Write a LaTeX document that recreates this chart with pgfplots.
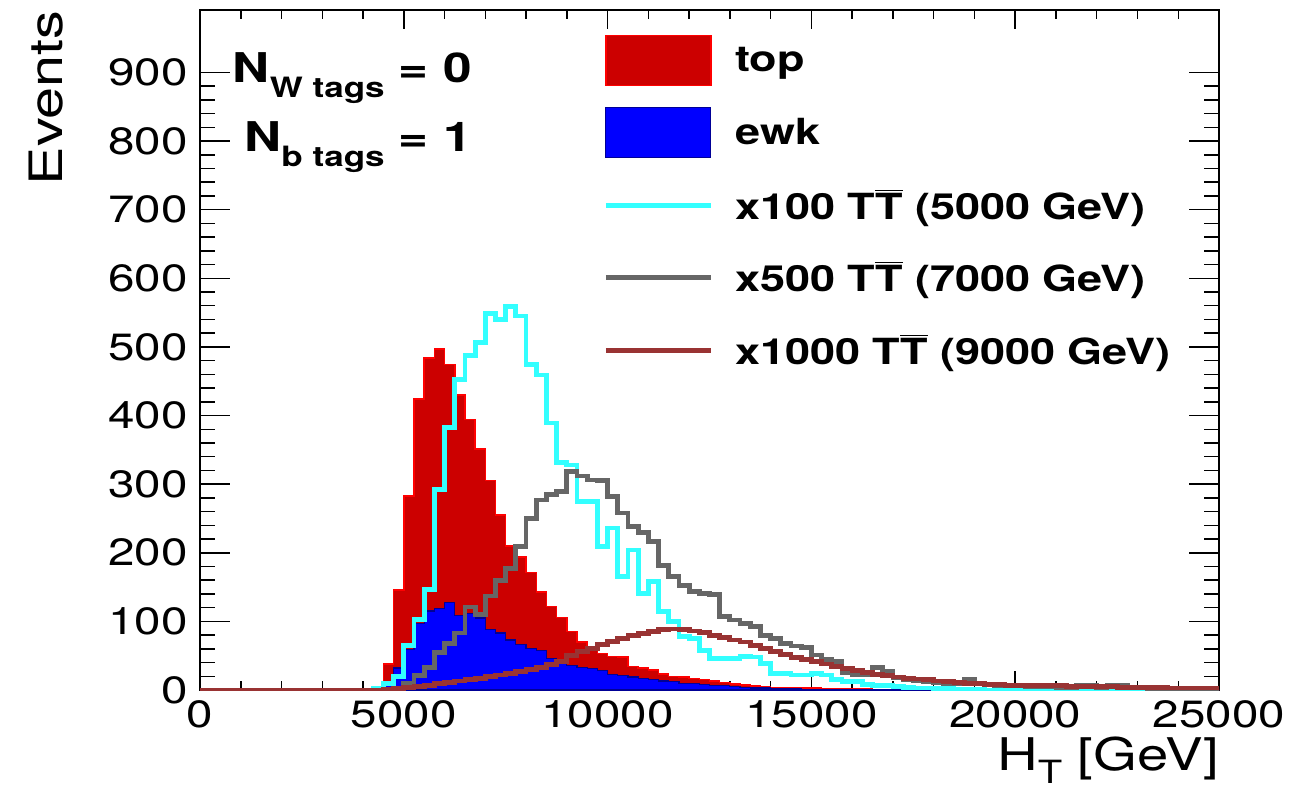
\documentclass[border=0pt]{standalone}
\usepackage{fontspec}
\setmainfont{TeX Gyre Heros}[FakeStretch=1.25]
\usepackage{pgfplots}
\pgfplotsset{compat=1.18}
\usepackage{pgfplotstable}

\definecolor{topfill}{RGB}{204,0,0}
\definecolor{topline}{RGB}{255,0,0}
\definecolor{ewkfill}{RGB}{0,0,255}
\definecolor{ewkline}{RGB}{0,0,150}
\definecolor{sigA}{RGB}{51,255,255}
\definecolor{sigB}{RGB}{102,102,102}
\definecolor{sigC}{RGB}{153,51,51}

\pgfplotstableread{
x     top  ewk  tA   tB   tC
0     0    0    0    0    0
4250  5    0    2    0    0
4500  38   10   9    0    1
4750  146  32   20   3    2
5000  283  59   65   10   4
5250  424  97   103  21   5
5500  484  115  146  33   7
5750  497  119  292  55   9
6000  474  128  383  68   11
6250  430  109  452  83   13
6500  394  112  487  121  15
6750  351  105  506  110  17
7000  305  88   549  137  20
7250  255  83   540  160  22
7500  210  73   559  177  24
7750  194  66   545  209  27
8000  171  61   474  250  30
8250  143  58   459  277  33
8500  122  46   389  285  37
8750  106  43   331  289  41
9000  85   36   328  318  50
9250  70   33   275  312  56
9500  62   31   275  306  61
9750  53   28   209  305  66
10000 49   23   236  282  71
10250 48   21   165  258  75
10500 34   19   204  238  80
10750 32   17   141  229  82
11000 29   15   158  216  85
11250 23   13   114  181  88
11500 20   12   100  165  89
11750 19   10   78   152  88
12000 17   9    75   143  86
12250 15   8    57   141  84
12500 13   7    46   139  80
12750 11   6    46   107  77
13000 9    5    46   102  73
13250 7    4    49   97   70
13500 6    3    48   92   65
13750 5    3    39   80   61
14000 4    2    24   75   56
14250 4    2    24   68   52
14500 3    2    22   64   47
14750 3    1    22   62   44
15000 3    1    24   51   41
15250 2    1    22   44   38
15500 2    1    15   42   34
15750 2    1    12   25   31
16000 2    1    12   22   28
16250 2    0    8    22   25
16500 1    0    7    33   23
16750 1    0    6    27   21
17000 1    0    5    18   19
17250 1    0    4    15   17
17500 1    0    3    14   16
17750 1    0    3    12   15
18000 1    0    2    11   13
18250 1    0    2    10   12
18500 1    0    1    10   11
18750 1    0    1    16   10
19000 1    0    1    9    9
19250 0    0    0    8    8
19500 0    0    0    7    8
19750 0    0    0    6    7
20000 0    0    0    6    7
20250 0    0    0    5    6
20500 0    0    0    5    6
20750 0    0    0    5    6
21000 0    0    0    4    6
21250 0    0    0    4    5
21500 0    0    0    6    5
21750 0    0    0    6    5
22000 0    0    0    4    5
22250 0    0    0    6    5
22500 0    0    0    6    4
22750 0    0    0    3    4
23000 0    0    0    3    4
23250 0    0    0    2    4
23500 0    0    0    2    4
23750 0    0    0    2    3
24000 0    0    0    2    3
24250 0    0    0    1    3
24500 0    0    0    1    3
24750 0    0    0    1    3
25000 0    0    0    1    3
}\hist

\begin{document}
\begin{tikzpicture}
\begin{axis}[
  name=ax,
  scale only axis,
  width=509.5pt, height=340pt,
  xmin=0, xmax=25000, ymin=0, ymax=991,
  xtick={0,5000,...,25000},
  ytick={0,100,...,900},
  minor x tick num=4, minor y tick num=4,
  tick align=inside,
  xtick pos=both, ytick pos=both,
  xtick style={/pgfplots/major tick length=9.5pt, /pgfplots/minor tick length=4.75pt, line width=0.75pt, black},
  ytick style={/pgfplots/major tick length=15pt, /pgfplots/minor tick length=7.5pt, line width=0.75pt, black},
  axis line style={line width=1pt},
  scaled x ticks=false,
  /pgf/number format/assume math mode=true,
  /pgf/number format/1000 sep={},
  ticklabel style={font=\fontsize{19}{19}\selectfont},
  xticklabel style={inner sep=0pt, yshift=-5pt},
  yticklabel style={inner sep=0pt, xshift=-6pt},
  legend style={draw=none, fill=none, at={(rel axis cs:0.3955,0.9794)}, anchor=north west,
    inner sep=0pt, row sep=0.25pt, font=\bfseries\fontsize{18}{18}\selectfont,
    nodes={inner sep=0pt},
    /tikz/every odd column/.append style={column sep=11pt}},
  legend cell align=left,
]
\addplot[const plot, fill=topfill, draw=topline, line width=0.75pt,
  legend image code/.code={\filldraw[fill=topfill, draw=topline, line width=0.75pt] (0pt,-12.5pt) rectangle (52.5pt,12.5pt); \path[draw=none, fill=none] (0pt,-18pt) rectangle (52.5pt,18pt);}]
  table[x=x,y=top]{\hist} \closedcycle;
\addlegendentry{top}
\addplot[const plot, fill=ewkfill, draw=ewkline, line width=0.6pt,
  legend image code/.code={\filldraw[fill=ewkfill, draw=ewkline, line width=0.6pt] (0pt,-12.5pt) rectangle (52.5pt,12.5pt); \path[draw=none, fill=none] (0pt,-18pt) rectangle (52.5pt,18pt);}]
  table[x=x,y=ewk]{\hist} \closedcycle;
\addlegendentry{ewk}
\addplot[const plot, draw=sigA, line width=2.4pt,
  legend image code/.code={\draw[draw=sigA, line width=2.4pt] (0pt,0pt) -- (52.5pt,0pt); \path[draw=none, fill=none] (0pt,-18pt) rectangle (52.5pt,18pt);}]
  table[x=x,y=tA]{\hist};
\addlegendentry{x100 T$\overline{\hbox{T}}$ (5000 GeV)}
\addplot[const plot, draw=sigB, line width=2.4pt,
  legend image code/.code={\draw[draw=sigB, line width=2.4pt] (0pt,0pt) -- (52.5pt,0pt); \path[draw=none, fill=none] (0pt,-18pt) rectangle (52.5pt,18pt);}]
  table[x=x,y=tB]{\hist};
\addlegendentry{x500 T$\overline{\hbox{T}}$ (7000 GeV)}
\addplot[const plot, draw=sigC, line width=2.4pt,
  legend image code/.code={\draw[draw=sigC, line width=2.4pt] (0pt,0pt) -- (52.5pt,0pt); \path[draw=none, fill=none] (0pt,-18pt) rectangle (52.5pt,18pt);}]
  table[x=x,y=tC]{\hist};
\addlegendentry{x1000 T$\overline{\hbox{T}}$ (9000 GeV)}
\end{axis}
\node[rotate=90, anchor=east, inner sep=0pt, font=\fontsize{23}{23}\selectfont] at ([xshift=-77pt]ax.north west) {Events};
\node[anchor=base east, inner sep=0pt, font=\fontsize{22.5}{22.5}\selectfont] at ([yshift=-40pt]ax.south east) {H\raisebox{-0.3em}{\fontsize{16}{16}\selectfont T} [GeV]};
\node[anchor=base east, inner sep=0pt, font=\bfseries\fontsize{20.5}{20.5}\selectfont] at ([xshift=136pt,yshift=-36.5pt]ax.north west) {N\raisebox{-0.35em}{\fontsize{14}{14}\selectfont W tags} = 0};
\node[anchor=base east, inner sep=0pt, font=\bfseries\fontsize{20.5}{20.5}\selectfont] at ([xshift=136pt,yshift=-71pt]ax.north west) {N\raisebox{-0.35em}{\fontsize{14}{14}\selectfont b tags} = 1};
\pgfresetboundingbox
\path ([xshift=-100pt,yshift=-49pt]ax.south west) rectangle ([xshift=48pt,yshift=5pt]ax.north east);
\end{tikzpicture}
\end{document}
